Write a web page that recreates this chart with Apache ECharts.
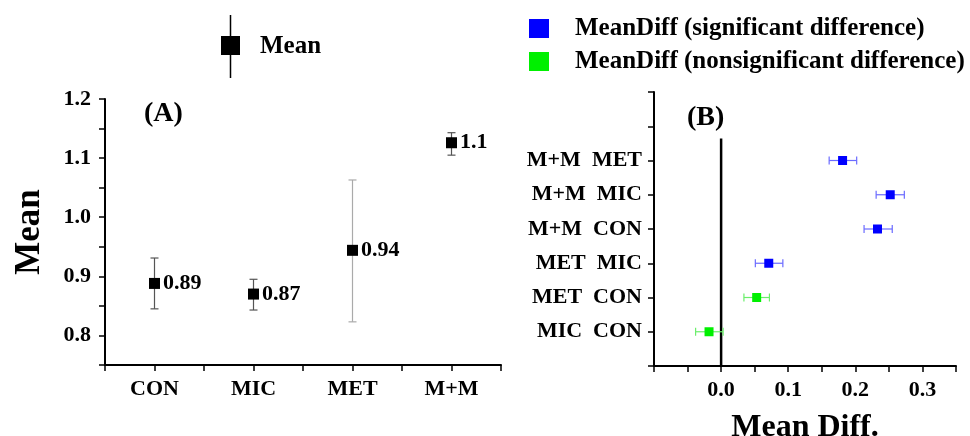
<!DOCTYPE html>
<html>
<head>
<meta charset="utf-8">
<script src="https://cdn.jsdelivr.net/npm/echarts@6/dist/echarts.min.js"></script>
<style>html,body{margin:0;padding:0;background:#fff}#c{width:970px;height:436px}</style>
</head>
<body>
<div id="c"></div>
<script>
// ---- data (panel A) ----
const catsA = ['CON', 'MIC', 'MET', 'M+M'];
const meanA = [0.888, 0.870, 0.944, 1.126];
const lowA = [0.845, 0.843, 0.823, 1.105];
const highA = [0.931, 0.895, 1.063, 1.143];
const labelsA = ['0.89', '0.87', '0.94', '1.1'];
// ---- data (panel B) ----
const pairsB = ['MIC  CON', 'MET  CON', 'MET  MIC', 'M+M  CON', 'M+M  MIC', 'M+M  MET'];
const diffB = [-0.018, 0.053, 0.071, 0.233, 0.252, 0.181];
const lowB = [-0.038, 0.034, 0.051, 0.213, 0.231, 0.161];
const highB = [0.003, 0.072, 0.092, 0.255, 0.273, 0.202];
const sigB = [false, false, true, true, true, true];
const zeroLineTop = 6.64;

// ---- styles ----
const FONT = '"Liberation Serif", "Times New Roman", serif';
const errColorsA = ['#555', '#555', '#aaa', '#555'];
const SIG_NAME = 'MeanDiff (significant difference)';
const NS_NAME = 'MeanDiff (nonsignificant difference)';

const ptsA = meanA.map((v, i) => [i + 1, v]);
const errA = meanA.map((v, i) => [i + 1, lowA[i], highA[i]]);
const sigPts = [], nsPts = [], errB = [];
diffB.forEach((v, i) => {
  (sigB[i] ? sigPts : nsPts).push([v, i + 1]);
  errB.push([i + 1, lowB[i], highB[i], sigB[i] ? 1 : 0]);
});

const axisLineX = { show: true, onZero: false, lineStyle: { color: '#000', width: 2 } };
const axisLineY = { show: true, onZero: false, lineStyle: { color: '#000', width: 2 } };
const axisTick = { show: true, length: 6, lineStyle: { color: '#000', width: 1.5 } };
const lbl = { fontFamily: FONT, fontWeight: 'bold', fontSize: 22, color: '#000' };

const chart = echarts.init(document.getElementById('c'));
chart.setOption({
  animation: false,
  title: [
    { text: '(A)', left: 144, top: 100, padding: 0, textStyle: { fontFamily: FONT, fontWeight: 'bold', fontSize: 28, color: '#000' } },
    { text: '(B)', left: 687, top: 104, padding: 0, textStyle: { fontFamily: FONT, fontWeight: 'bold', fontSize: 28, color: '#000' } }
  ],
  legend: [
    {
      data: ['Mean'], left: 221, top: 15, padding: 0, selectedMode: false,
      itemWidth: 19, itemHeight: 63,
      icon: 'path://M8.75,0 L10.25,0 L10.25,21 L19,21 L19,40 L10.25,40 L10.25,63 L8.75,63 L8.75,40 L0,40 L0,21 L8.75,21 Z',
      itemStyle: { opacity: 1 },
      textStyle: { fontFamily: FONT, fontWeight: 'bold', fontSize: 25, color: '#000', padding: [0, 0, 0, 15] }
    },
    {
      data: [SIG_NAME, NS_NAME], left: 529, top: 16, padding: 0, orient: 'vertical', selectedMode: false,
      itemWidth: 20, itemHeight: 19, itemGap: 8, icon: 'rect',
      itemStyle: { opacity: 1 },
      textStyle: { fontFamily: FONT, fontWeight: 'bold', fontSize: 25, color: '#000', padding: [0, 0, 0, 21] }
    }
  ],
  grid: [
    { left: 105, top: 99, width: 396, height: 266, outerBoundsMode: 'none', containLabel: false },
    { left: 654, top: 92, width: 302, height: 274, outerBoundsMode: 'none', containLabel: false }
  ],
  xAxis: [
    {
      gridIndex: 0, type: 'value', min: 0.5, max: 4.5, interval: 0.5,
      axisLine: axisLineX, axisTick, splitLine: { show: false },
      axisLabel: Object.assign({ margin: 13, showMinLabel: true, showMaxLabel: true,
        formatter: v => (Math.abs(v - Math.round(v)) < 1e-6 ? (catsA[Math.round(v) - 1] || '') : '') }, lbl)
    },
    {
      gridIndex: 1, type: 'value', min: -0.1, max: 0.35, interval: 0.05,
      axisLine: axisLineX, axisTick, splitLine: { show: false },
      name: 'Mean Diff.', nameLocation: 'middle', nameGap: 46,
      nameTextStyle: { fontFamily: FONT, fontWeight: 'bold', fontSize: 32, color: '#000' },
      axisLabel: Object.assign({ margin: 13,
        formatter: v => {
          const t = v * 10;
          return (v > -0.001 && Math.abs(t - Math.round(t)) < 1e-6) ? v.toFixed(1) : '';
        } }, lbl)
    }
  ],
  yAxis: [
    {
      gridIndex: 0, type: 'value', min: 0.75, max: 1.2, interval: 0.05,
      axisLine: axisLineY, axisTick, splitLine: { show: false },
      name: 'Mean', nameLocation: 'middle', nameGap: 58, nameRotate: 90,
      nameTextStyle: { fontFamily: FONT, fontWeight: 'bold', fontSize: 35, color: '#000' },
      axisLabel: Object.assign({ margin: 14,
        formatter: v => {
          const t = v * 10;
          return Math.abs(t - Math.round(t)) < 1e-6 ? v.toFixed(1) : '';
        } }, lbl)
    },
    {
      gridIndex: 1, type: 'value', min: 0, max: 8, interval: 1,
      axisLine: axisLineY, axisTick, splitLine: { show: false },
      axisLabel: Object.assign({ margin: 12,
        formatter: v => (v >= 1 && v <= pairsB.length ? pairsB[v - 1] : '') }, lbl)
    }
  ],
  series: [
    {
      type: 'custom', xAxisIndex: 0, yAxisIndex: 0, silent: true, z: 1,
      data: errA, encode: { x: 0, y: [1, 2] },
      renderItem: (params, api) => {
        const x = api.value(0);
        const p1 = api.coord([x, api.value(1)]);
        const p2 = api.coord([x, api.value(2)]);
        const c = 4;
        const st = { stroke: errColorsA[params.dataIndex], lineWidth: 1.2 };
        return { type: 'group', children: [
          { type: 'line', shape: { x1: p1[0], y1: p1[1], x2: p2[0], y2: p2[1] }, style: st },
          { type: 'line', shape: { x1: p1[0] - c, y1: p1[1], x2: p1[0] + c, y2: p1[1] }, style: st },
          { type: 'line', shape: { x1: p2[0] - c, y1: p2[1], x2: p2[0] + c, y2: p2[1] }, style: st }
        ] };
      }
    },
    {
      name: 'Mean', type: 'scatter', xAxisIndex: 0, yAxisIndex: 0, z: 3,
      symbol: 'rect', symbolSize: 11, itemStyle: { color: '#000', opacity: 1 },
      data: ptsA,
      label: Object.assign({ show: true, position: 'right', distance: 3,
        formatter: p => labelsA[p.dataIndex] }, lbl)
    },
    {
      type: 'line', xAxisIndex: 1, yAxisIndex: 1, silent: true, symbol: 'none', z: 1,
      data: [[0, 0], [0, zeroLineTop]],
      lineStyle: { color: '#000', width: 2.5 }
    },
    {
      type: 'custom', xAxisIndex: 1, yAxisIndex: 1, silent: true, z: 2,
      data: errB, encode: { y: 0, x: [1, 2] },
      renderItem: (params, api) => {
        const y = api.value(0);
        const p1 = api.coord([api.value(1), y]);
        const p2 = api.coord([api.value(2), y]);
        const c = 4;
        const st = { stroke: api.value(3) ? '#6b6bff' : '#6bee6b', lineWidth: 1.2 };
        return { type: 'group', children: [
          { type: 'line', shape: { x1: p1[0], y1: p1[1], x2: p2[0], y2: p2[1] }, style: st },
          { type: 'line', shape: { x1: p1[0], y1: p1[1] - c, x2: p1[0], y2: p1[1] + c }, style: st },
          { type: 'line', shape: { x1: p2[0], y1: p2[1] - c, x2: p2[0], y2: p2[1] + c }, style: st }
        ] };
      }
    },
    {
      name: SIG_NAME, type: 'scatter', xAxisIndex: 1, yAxisIndex: 1, z: 3,
      symbol: 'rect', symbolSize: 9, itemStyle: { color: '#0000ff', opacity: 1 }, data: sigPts
    },
    {
      name: NS_NAME, type: 'scatter', xAxisIndex: 1, yAxisIndex: 1, z: 3,
      symbol: 'rect', symbolSize: 9, itemStyle: { color: '#00f000', opacity: 1 }, data: nsPts
    }
  ]
});
</script>
</body>
</html>
